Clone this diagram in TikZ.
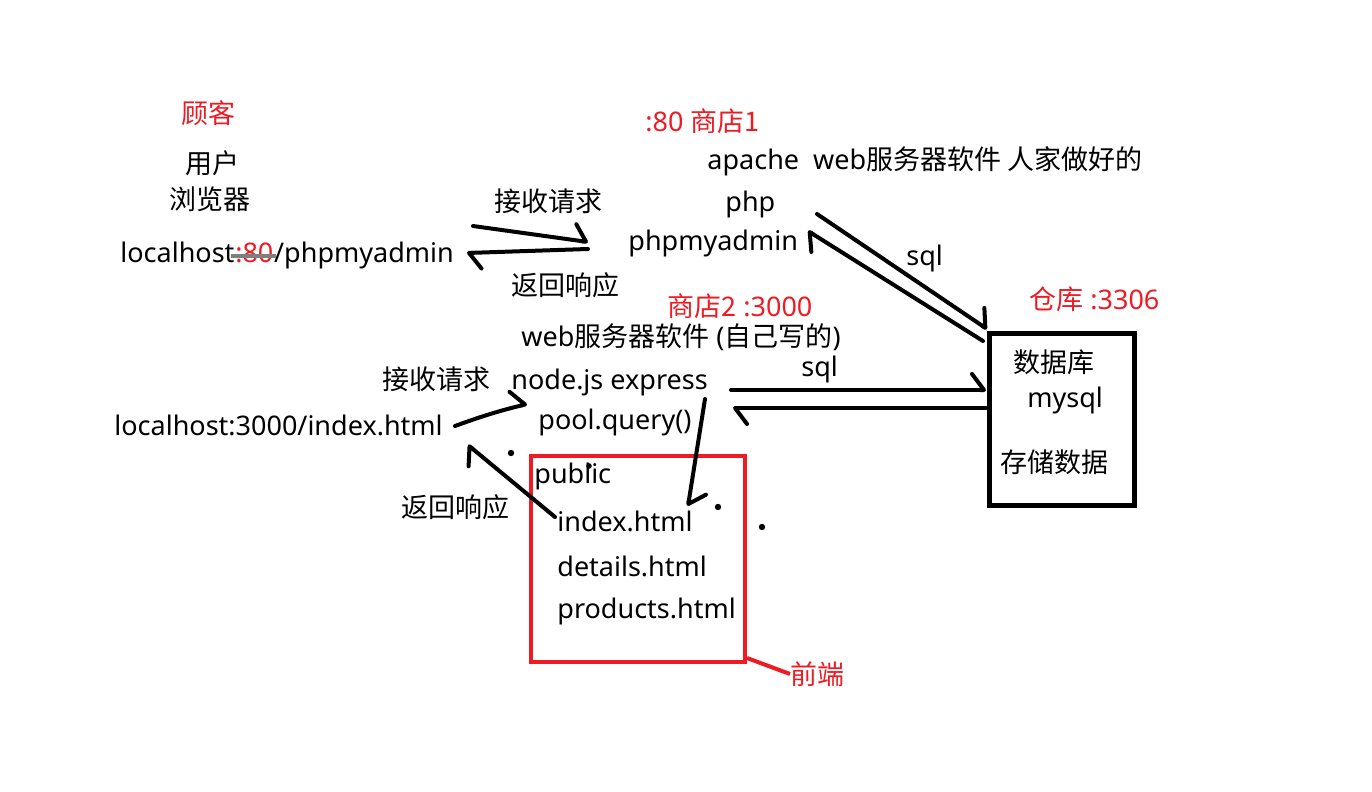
\documentclass[tikz,border=0pt]{standalone}
\usepackage{fontspec}
\setmainfont{Noto Sans}
\newfontfamily\cjk{Noto Sans CJK SC}
\usetikzlibrary{arrows.meta}
\definecolor{pred}{RGB}{237,28,36}
\definecolor{sgrey}{RGB}{127,127,127}
\begin{document}
\begin{tikzpicture}[x=0.5pt,y=-0.5pt,
  txt/.style={inner sep=0pt, font=\fontsize{13.5pt}{16pt}\selectfont},
  lt/.style={txt, anchor=west},
  rt/.style={lt, text=pred},
  conn/.style={line width=2pt, line cap=round,
    -{Straight Barb[harpoon, length=6pt, width=16pt, round]}},
  dot/.style={fill=black},
]
\useasboundingbox (0,0) rectangle (1372,792);

% ---- client ----
\node[txt, text=pred] (guke) at (208,113) {\cjk 顾客};
\node[txt] (yonghu) at (212,163) {\cjk 用户};
\node[txt] (llq) at (210,199) {\cjk 浏览器};
\node[lt] (lh) at (120,252) {localhost};
\node[txt, anchor=base west, text=pred] (p80) at (lh.base east) {:80};
\node[txt, anchor=base west] (pma) at (p80.base east) {/phpmyadmin};
\draw[sgrey, line width=2pt] ([xshift=-2pt,yshift=-1.5pt]p80.west) -- ([xshift=1pt,yshift=-1.5pt]p80.east);

\node[lt] (l3000) at (114,425) {localhost:3000/index.html};

% ---- shop 1 ----
\node[rt] (shop1) at (645,121) {:80 {\cjk 商店1}};
\node[lt] (apache) at (707,161) {apache\ \ web{\cjk 服务器软件 人家做好的}};
\node[lt] (php) at (725,204) {php};
\node[lt] (pmyadm) at (628,243) {phpmyadmin};
\node[lt] (req1) at (494,201) {\cjk 接收请求};
\node[lt] (resp1) at (511,285) {\cjk 返回响应};
\node[lt] (sql1) at (906,258) {sql};

% ---- shop 2 ----
\node[rt] (shop2) at (667,306) {{\cjk 商店2} :3000};
\node[lt] (websw) at (521,337) {web{\cjk 服务器软件} ({\cjk 自己写的})};
\node[lt] (node) at (511,382) {node.js express};
\node[lt] (pool) at (538,422) {pool.query()};
\node[lt] (req2) at (382,379) {\cjk 接收请求};
\node[lt] (resp2) at (401,507) {\cjk 返回响应};
\node[lt] (sql2) at (801,369) {sql};

% ---- database ----
\node[draw, line width=2.5pt, minimum width=72.5pt, minimum height=86pt, inner sep=0pt, anchor=north west] (db) at (987,331) {};
\node[rt] (cangku) at (1029,299) {{\cjk 仓库} :3306};
\node[lt] (sjk) at (1013,362) {\cjk 数据库};
\node[lt] (mysql) at (1027,400) {mysql};
\node[lt] (ccsj) at (1000,462) {\cjk 存储数据};

% ---- public folder ----
\node[draw=pred, line width=2pt, minimum width=107pt, minimum height=103pt, inner sep=0pt, anchor=north west] (pub) at (529,454) {};
\node[lt] (public) at (534,476) {public};
\node[lt] (idx) at (557,521) {index.html};
\node[lt] (det) at (557,566) {details.html};
\node[lt] (prod) at (557,611) {products.html};
\node[rt] (qd) at (790,674) {\cjk 前端};
\draw[pred, line width=2pt] ([yshift=3pt]pub.south east) -- (qd.west);

% ---- connectors ----
\coordinate (a1s) at (473,226);
\coordinate (a1e) at (588,242);
\draw[conn] (a1s) -- (a1e);
\coordinate (a2s) at (588,249);
\coordinate (a2e) at (467,253);
\draw[conn] (a2s) -- (a2e);

\coordinate (s1s) at (817,214);
\coordinate (s1e) at (987,329);
\draw[conn] (s1s) -- (s1e);
\coordinate (s2s) at (983,341);
\coordinate (s2e) at (808,231);
\draw[conn] (s2s) -- (s2e);

\coordinate (q1s) at (731,390);
\coordinate (q1e) at (986,390);
\draw[conn] (q1s) -- (q1e);
\coordinate (q2s) at (986,408);
\coordinate (q2e) at (733,408);
\draw[conn] (q2s) -- (q2e);

\coordinate (b1s) at (455,426);
\coordinate (b1e) at (527,404);
\draw[conn] (b1s) to[bend left=3] (b1e);
\coordinate (b2s) at (555,517);
\coordinate (b2e) at (468,445);
\draw[conn] (b2s) -- (b2e);

\coordinate (n1s) at (705,399);
\coordinate (n1e) at (688,506);
\draw[conn] (n1s) -- (n1e);

% ---- stray dots ----
\fill[dot] (511,453) circle (1.6pt);
\fill[dot] (589,466) circle (1.4pt);
\fill[dot] (718,507) circle (1.6pt);
\fill[dot] (762,527) circle (1.6pt);
\end{tikzpicture}
\end{document}
